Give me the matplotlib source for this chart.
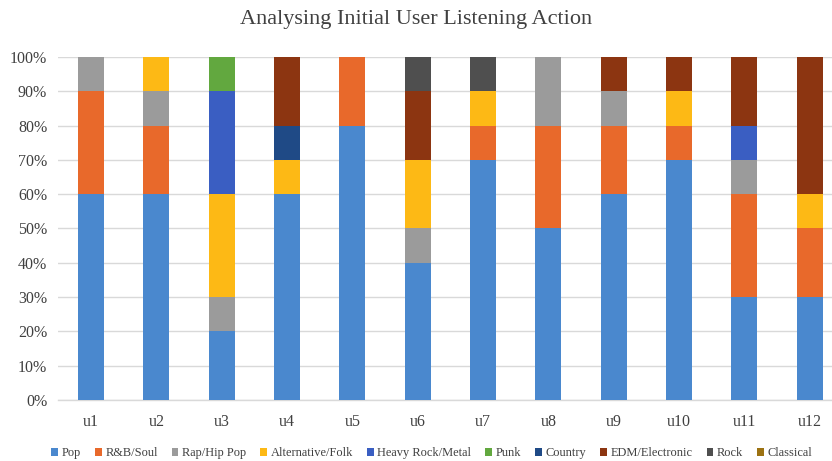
import matplotlib
matplotlib.use("Agg")
import matplotlib.pyplot as plt
import numpy as np
from matplotlib.patches import Patch

users = ["u1", "u2", "u3", "u4", "u5", "u6", "u7", "u8", "u9", "u10", "u11", "u12"]
genres = ["Pop", "R&B/Soul", "Rap/Hip Pop", "Alternative/Folk", "Heavy Rock/Metal",
          "Punk", "Country", "EDM/Electronic", "Rock", "Classical"]

pop          = [60, 60, 20, 60, 80, 40, 70, 50, 60, 70, 30, 30]
rnb          = [30, 20, 0, 0, 20, 0, 10, 30, 20, 10, 30, 20]
rap          = [10, 10, 10, 0, 0, 10, 0, 20, 10, 0, 10, 0]
alternative  = [0, 10, 30, 10, 0, 20, 10, 0, 0, 10, 0, 10]
heavy        = [0, 0, 30, 0, 0, 0, 0, 0, 0, 0, 10, 0]
punk         = [0, 0, 10, 0, 0, 0, 0, 0, 0, 0, 0, 0]
country      = [0, 0, 0, 10, 0, 0, 0, 0, 0, 0, 0, 0]
edm          = [0, 0, 0, 20, 0, 20, 0, 0, 10, 10, 20, 40]
rock         = [0, 0, 0, 0, 0, 10, 10, 0, 0, 0, 0, 0]
classical    = [0, 0, 0, 0, 0, 0, 0, 0, 0, 0, 0, 0]

series = [pop, rnb, rap, alternative, heavy, punk, country, edm, rock, classical]
colors = ["#4A88CE", "#E8692B", "#9B9B9B", "#FDB915", "#3A5EC2",
          "#62A83F", "#1F4A86", "#8C3511", "#4F4F4F", "#9C7212"]

plt.rcParams['font.family'] = ['Liberation Serif', 'DejaVu Serif']

fig = plt.figure(figsize=(8.32, 4.61), dpi=100)
ax = fig.add_axes([0.0701, 0.1323, 0.9423, 0.7441])

x = np.arange(len(users))
bottom = np.zeros(len(users))
for vals, c, g in zip(series, colors, genres):
    v = np.array(vals, dtype=float) / 100.0
    ax.bar(x, v, bottom=bottom, width=0.40, color=c, label=g, zorder=3)
    bottom += v

ax.set_xlim(-0.5, len(users) - 0.5)
ax.set_ylim(0, 1.0)
ax.set_yticks(np.arange(0, 1.01, 0.1))
ax.set_yticklabels([f"{int(round(t*100))}%" for t in np.arange(0, 1.01, 0.1)])
ax.set_xticks(x)
ax.set_xticklabels(users)
ax.tick_params(axis='both', length=0, labelsize=11.5, colors="#404040")
ax.tick_params(axis='x', pad=10)
ax.tick_params(axis='y', pad=8)
ax.grid(axis='y', color="#D9D9D9", linewidth=1, zorder=0)
for s in ["top", "right", "left"]:
    ax.spines[s].set_visible(False)
ax.spines["bottom"].set_color("#D9D9D9")
ax.spines["bottom"].set_linewidth(1)

fig.text(0.5, 0.958, "Analysing Initial User Listening Action", ha="center", va="center",
         fontsize=16, color="#404040")

handles = [Patch(facecolor=c, label=g) for c, g in zip(colors, genres)]
fig.legend(handles=handles, loc="center", bbox_to_anchor=(0.519, 0.017), ncol=10,
           frameon=False, fontsize=8.9, handlelength=0.55, handleheight=0.55,
           handletextpad=0.3, columnspacing=1.12, labelcolor="#404040")

fig.savefig("out.png", dpi=100)
